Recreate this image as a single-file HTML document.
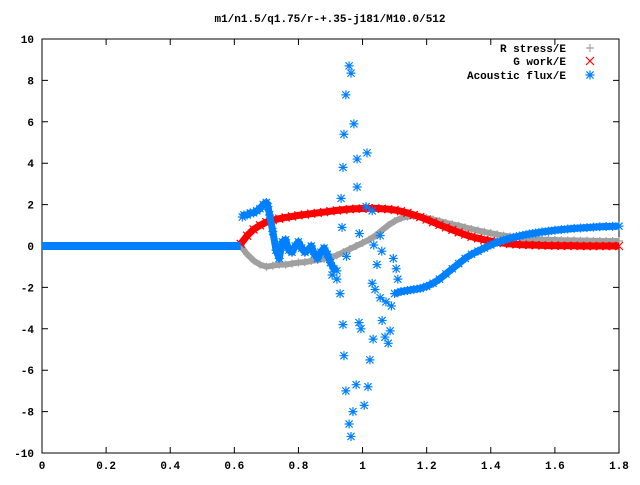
<!DOCTYPE html>
<html><head><meta charset="utf-8"><style>
body{margin:0;background:#fff}
svg text{font-family:"Liberation Mono",monospace;font-size:11px;font-weight:bold;fill:#000}
</style></head><body>
<svg id="chart" width="640" height="480" viewBox="0 0 640 480" xmlns="http://www.w3.org/2000/svg">
<text x="330" y="22" text-anchor="middle">m1/n1.5/q1.75/r-+.35-j181/M10.0/512</text>
<g id="axes"></g>
<g id="series"></g>
<g id="legend">
<text x="566" y="52" text-anchor="end">R stress/E</text>
<text x="566" y="65" text-anchor="end">G work/E</text>
<text x="566" y="79" text-anchor="end">Acoustic flux/E</text>
</g>
</svg>
<script>
const xTicks=[0,0.2,0.4,0.6,0.8,1,1.2,1.4,1.6,1.8];
const xTickLabels=["0","0.2","0.4","0.6","0.8","1","1.2","1.4","1.6","1.8"];
const yTicks=[-10,-8,-6,-4,-2,0,2,4,6,8,10];
const yTickLabels=["-10","-8","-6","-4","-2","0","2","4","6","8","10"];
const curveX=[0.62,0.64,0.66,0.68,0.70,0.72,0.74,0.76,0.78,0.80,0.82,0.84,0.86,0.88,0.90,0.92,0.94,0.96,0.98,1.00,1.02,1.04,1.06,1.08,1.10,1.12,1.14,1.16,1.18,1.20,1.22,1.24,1.26,1.28,1.30,1.32,1.34,1.36,1.38,1.40,1.42,1.44,1.46,1.48,1.50,1.52,1.54,1.56,1.58,1.60,1.62,1.64,1.66,1.68,1.70,1.72,1.74,1.76,1.78,1.80];
const rStress=[0,-0.4,-0.7,-0.9,-1.0,-0.95,-0.9,-0.9,-0.85,-0.8,-0.78,-0.72,-0.68,-0.62,-0.55,-0.45,-0.3,-0.15,0,0.15,0.3,0.5,0.75,1.0,1.2,1.35,1.42,1.45,1.42,1.35,1.28,1.2,1.12,1.05,0.98,0.9,0.82,0.75,0.68,0.62,0.56,0.5,0.46,0.42,0.38,0.35,0.33,0.31,0.3,0.29,0.28,0.27,0.27,0.26,0.26,0.25,0.25,0.24,0.24,0.24];
const gWork=[0.1,0.5,0.8,1.0,1.15,1.25,1.32,1.38,1.43,1.48,1.52,1.56,1.6,1.64,1.68,1.72,1.75,1.78,1.8,1.81,1.82,1.82,1.8,1.78,1.74,1.68,1.6,1.5,1.4,1.28,1.15,1.02,0.9,0.78,0.66,0.55,0.45,0.37,0.3,0.24,0.18,0.14,0.1,0.08,0.06,0.05,0.04,0.03,0.02,0.02,0.01,0.01,0.01,0,0,0,0,0,0,0];
const fluxLowX=[0,0.02,0.04,0.06,0.08,0.1,0.12,0.14,0.16,0.18,0.2,0.22,0.24,0.26,0.28,0.3,0.32,0.34,0.36,0.38,0.4,0.42,0.44,0.46,0.48,0.5,0.52,0.54,0.56,0.58,0.6,0.62];
const fluxLow=[0,0,0,0,0,0,0,0,0,0,0,0,0,0,0,0,0,0,0,0,0,0,0,0,0,0,0,0,0,0,0,0];
const fluxEarlyX=[0.625,0.63,0.64,0.65,0.66,0.67,0.68,0.69,0.70,0.705,0.71,0.72,0.73,0.74,0.75,0.76,0.77,0.78,0.79,0.80,0.81,0.82,0.83,0.84,0.85,0.86,0.87,0.88,0.89,0.90,0.91,0.92];
const fluxEarly=[1.4,1.5,1.5,1.6,1.6,1.7,1.8,2.0,2.1,1.9,1.5,0.7,-0.2,-0.6,0.2,0.3,-0.2,-0.3,0.0,0.2,-0.1,-0.3,-0.2,0.0,-0.4,-0.6,-0.3,-0.1,-0.4,-0.8,-1.1,-1.2];
const fluxLateX=[1.10,1.12,1.14,1.16,1.18,1.20,1.22,1.24,1.26,1.28,1.30,1.32,1.34,1.36,1.38,1.40,1.42,1.44,1.46,1.48,1.50,1.52,1.54,1.56,1.58,1.60,1.62,1.64,1.66,1.68,1.70,1.72,1.74,1.76,1.78,1.80];
const fluxLate=[-2.3,-2.2,-2.15,-2.1,-2.05,-1.95,-1.8,-1.6,-1.35,-1.1,-0.85,-0.6,-0.4,-0.25,-0.1,0.05,0.18,0.28,0.37,0.45,0.52,0.58,0.63,0.68,0.72,0.76,0.79,0.82,0.85,0.87,0.89,0.91,0.93,0.94,0.95,0.96];
const fluxScatterX=[0.958,0.964,0.948,0.973,0.942,0.939,0.983,1.014,0.983,1.011,1.03,0.933,0.936,0.93,0.939,0.942,0.948,0.958,0.964,0.97,0.98,0.989,0.995,1.005,1.017,1.023,1.033,1.039,1.03,1.055,1.061,1.073,1.07,1.08,1.086,1.045,1.06,1.035,1.055,1.096,1.105,1.11,1.09,0.905,0.92,0.95,0.99];
const fluxScatter=[8.7,8.35,7.3,5.9,5.4,3.8,4.2,4.5,2.85,1.9,1.7,2.3,0.9,-2.3,-3.8,-5.3,-7.0,-8.6,-9.2,-8.0,-6.7,-3.7,-4.0,-7.7,-6.8,-5.5,-4.5,-2.1,-1.8,-2.5,-3.6,-2.7,-4.4,-4.7,-4.1,-0.9,-0.25,0.05,0.5,-0.6,-1.1,-1.6,-2.9,-1.4,-1.6,-0.5,0.6];

const L=42,R=619,T=39,B=453;
const xs=v=>L+(v/1.8)*(R-L);
const ys=v=>T+((10-v)/20)*(B-T);
const NS="http://www.w3.org/2000/svg";
function mk(tag,attrs,parent){const e=document.createElementNS(NS,tag);for(const k in attrs)e.setAttribute(k,attrs[k]);parent.appendChild(e);return e;}
const axes=document.getElementById('axes');
const frame=mk('rect',{x:L,y:T,width:R-L,height:B-T,fill:'none',stroke:'#000','stroke-width':1},axes);


xTicks.forEach((t,i)=>{const x=xs(t);
 const tk=mk('path',{d:`M${x} ${B}v-6M${x} ${T}v6`,stroke:'#000'},axes);
 
 
 const lb=mk('text',{x:x,y:B+16,'text-anchor':'middle'},axes);lb.textContent=xTickLabels[i];
 
 
});
yTicks.forEach((t,i)=>{const y=ys(t);
 const tk=mk('path',{d:`M${L} ${y}h6M${R} ${y}h-6`,stroke:'#000'},axes);
 
 
 const lb=mk('text',{x:L-8,y:y+4,'text-anchor':'end'},axes);lb.textContent=yTickLabels[i];
 
 
});
const ser=document.getElementById('series');
function plus(x,y,s){return `M${x-s} ${y}h${2*s}M${x} ${y-s}v${2*s}`;}
function cross(x,y,s){return `M${x-s} ${y-s}l${2*s} ${2*s}M${x-s} ${y+s}l${2*s} ${-2*s}`;}
function star(x,y,s){return plus(x,y,s)+cross(x,y,s*0.8);}
function band(xa,ya,color,w,name){
 const pts=xa.map((x,i)=>xs(x)+','+ys(ya[i])).join(' ');
 const p=mk('polyline',{points:pts,fill:'none',stroke:color,'stroke-width':w,'stroke-linejoin':'round'},ser);
 
 
}
function markers(xa,ya,fn,s,color,name){
 let d='';xa.forEach((x,i)=>{d+=fn(xs(x),ys(ya[i]),s);});
 const p=mk('path',{d:d,stroke:color,'stroke-width':1.2,fill:'none'},ser);
 
 
}
band(curveX,rStress,'#a0a0a0',6,'r-stress-line');
markers(curveX,rStress,plus,4,'#a0a0a0','r-stress-points');
band(curveX,gWork,'#ff0000',7,'g-work-line');
markers(curveX,gWork,cross,4,'#ff0000','g-work-points');
band(fluxLowX,fluxLow,'#0080ff',8,'acoustic-flux-zero-line');
band(fluxEarlyX,fluxEarly,'#0080ff',7,'acoustic-flux-early-line');
markers(fluxEarlyX,fluxEarly,star,4.5,'#0080ff','acoustic-flux-early-points');
band(fluxLateX,fluxLate,'#0080ff',7,'acoustic-flux-late-line');
markers(fluxLateX,fluxLate,star,4.5,'#0080ff','acoustic-flux-late-points');
markers(fluxScatterX,fluxScatter,star,4.5,'#0080ff','acoustic-flux-scatter-points');
const lg=document.getElementById('legend');
const l1=mk('path',{d:plus(590,48,4),stroke:'#a0a0a0','stroke-width':1.2},lg);


const l2=mk('path',{d:cross(590,61,4),stroke:'#ff0000','stroke-width':1.2},lg);


const l3=mk('path',{d:star(590,75,4.5),stroke:'#0080ff','stroke-width':1.2},lg);


</script>
</body></html>
